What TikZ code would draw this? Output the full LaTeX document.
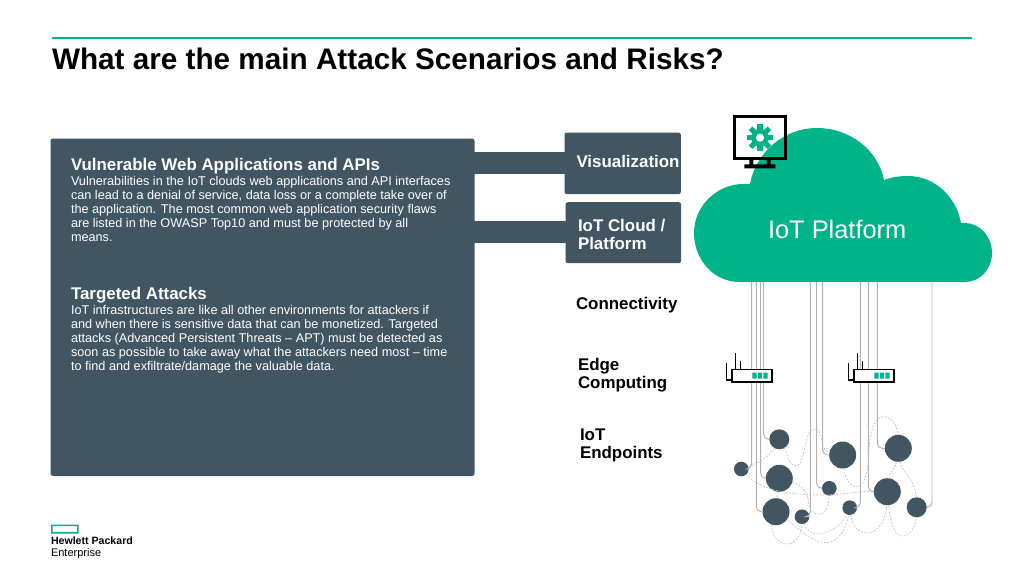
\documentclass[tikz,border=0pt]{standalone}
\usepackage{fontspec}
\setmainfont{Liberation Sans}
\definecolor{hpegreen}{HTML}{00B388}
\definecolor{slate}{HTML}{425563}
\definecolor{wiregray}{HTML}{B2B2B2}
\definecolor{dashgray}{HTML}{BEBEBE}
\tikzset{
  panelbox/.style={fill=slate,rounded corners=2.5pt,draw=none},
  txt/.style={inner sep=0pt,outer sep=0pt,anchor=base west},
  blocktxt/.style={inner sep=0pt,outer sep=0pt,anchor=north west,align=left,text=white},
  bodytxt/.style={blocktxt,font=\fontsize{12.68}{14}\selectfont},
  headtxt/.style={txt,text=white,font=\fontsize{16.9}{18}\selectfont\bfseries},
  lbl/.style={blocktxt,font=\fontsize{16.9}{18}\selectfont\bfseries},
  dot/.style={circle,fill=slate,inner sep=0pt,outer sep=0pt,minimum size=#1},
  wire/.style={draw=wiregray,line width=0.95pt,rounded corners=5pt},
  dashw/.style={draw=dashgray,line width=0.6pt,dash pattern=on 2pt off 1.4pt},
}
\newcommand{\routericon}[1]{%
  \begin{scope}[xshift=#1pt]
    \draw[black,line width=1.7pt,fill=white] (731.8,369.5) rectangle (772,382);
    \fill[hpegreen] (752.3,372.7) rectangle +(4.4,6) (757.8,372.7) rectangle +(4.4,6) (763.3,372.7) rectangle +(4.4,6);
    \draw[black,line width=1.1pt] (735.7,353.3) -- (735.7,369) (740.7,360.7) -- (740.7,369);
    \draw[black,line width=1.1pt] (726.3,363.3) -- (726.3,380) -- (731,380);
  \end{scope}}
\begin{document}
\begin{tikzpicture}[x=1pt,y=-1pt]
\useasboundingbox (0,0) rectangle (1024,576);
\fill[white] (0,0) rectangle (1024,576);
% title
\fill[hpegreen] (52,36.5) rectangle (972,38.5);
\node[txt,font=\fontsize{29.7}{32}\selectfont\bfseries] (title) at (52,69) {What are the main Attack Scenarios and Risks?};
% left panel and bars
\fill[slate] (470,151.7) rectangle (570,174.3);
\fill[slate] (470,221) rectangle (570,243.3);
\path[panelbox] (50.5,138.5) rectangle (474.5,476);
\node[panelbox,minimum width=116.4pt,minimum height=61.7pt,inner sep=0pt,anchor=north west] (viz) at (564.3,132.3) {};
\node[panelbox,minimum width=115.7pt,minimum height=61pt,inner sep=0pt,anchor=north west] (cloudbox) at (565.3,202) {};
\node[headtxt] (h1) at (71,170) {Vulnerable Web Applications and APIs};
\node[bodytxt] (b1) at (71,176.5) {Vulnerabilities in the IoT clouds web applications and API interfaces\\can lead to a denial of service, data loss or a complete take over of\\the application. The most common web application security flaws\\are listed in the OWASP Top10 and must be protected by all\\means.};
\node[headtxt] (h2) at (71,299) {Targeted Attacks};
\node[bodytxt] (b2) at (71,305) {IoT infrastructures are like all other environments for attackers if\\and when there is sensitive data that can be monetized. Targeted\\attacks (Advanced Persistent Threats – APT) must be detected as\\soon as possible to take away what the attackers need most – time\\to find and exfiltrate/damage the valuable data.};
% layer labels
\node[txt,text=white,font=\fontsize{16.9}{18}\selectfont\bfseries] (lviz) at (576.5,167.5) {Visualization};
\node[lbl] (lcloud) at (578,219) {IoT Cloud /\\Platform};
\node[txt,font=\fontsize{16.9}{18}\selectfont\bfseries] (lconn) at (576,309) {Connectivity};
\node[lbl,text=black] (ledge) at (578,358) {Edge\\Computing};
\node[lbl,text=black] (lend) at (580,429) {IoT\\Endpoints};
% endpoints
\node[dot=20pt] (d1) at (779.3,439.3) {};
\node[dot=14.6pt] (d2) at (741.3,469) {};
\node[dot=27pt] (d3) at (779.3,478.3) {};
\node[dot=27pt] (d4) at (776,511.7) {};
\node[dot=14.6pt] (d5) at (802,516.7) {};
\node[dot=27pt] (d6) at (842.7,455) {};
\node[dot=14.6pt] (d7) at (829.3,488.3) {};
\node[dot=14.6pt] (d8) at (849.7,507.7) {};
\node[dot=27pt] (d9) at (898.3,448.3) {};
\node[dot=27pt] (d10) at (887.3,491.7) {};
\node[dot=20pt] (d11) at (916.7,507.3) {};
% wires from the cloud
\foreach \n/\x in {a/751.7,b/756.3,c/760.7,d/763.7,e/810.3,f/816.7,g/822.7,h/860.3,i/868.3,j/877.3,k/932}
  \coordinate (w\n) at (\x,281);
\draw[wire] (wa) |- (d2);
\draw[wire] (wb) |- (d4);
\draw[wire] (wc) |- (d3);
\draw[wire] (wd) |- (d1);
\draw[wire] (we) |- (d5);
\draw[wire] (wf) |- (d7);
\draw[wire] (wg) |- (d6);
\draw[wire] (wh) |- (d8);
\draw[wire] (wi) |- (d10);
\draw[wire] (wj) |- (d9);
\draw[wire] (wk) |- (d11);
% dashed links
\draw[dashw] (d1) .. controls (768,458) and (757,464) .. (d2);
\draw[dashw] (d1) .. controls (787,452) and (788,465.7) .. (796,465.7) .. controls (806,466) and (803,429) .. (815,429) .. controls (825,429) and (818,450) .. (d6);
\draw[dashw] (d2) .. controls (760,490) and (790,495) .. (820,495) .. controls (840,495) and (860,491) .. (d10);
\draw[dashw] (d3) .. controls (802,485) and (808,492) .. (809,505) .. controls (810,512) and (815,514.3) .. (820,514.3) .. controls (826,514) and (829,505) .. (d7);
\draw[dashw] (d3) -- (d4);
\draw[dashw] (d4) .. controls (770,534) and (778,544) .. (787,544) .. controls (796,544) and (802,534) .. (d5);
\draw[dashw] (d4) .. controls (797,527) and (812,543) .. (826.7,542.7) .. controls (838,542) and (846,530) .. (d8);
\draw[dashw] (d5) .. controls (806,530) and (812,534) .. (817,534) .. controls (830,534) and (843,524) .. (d8);
\draw[dashw] (d8) .. controls (852,525) and (858,533) .. (867,533) .. controls (878,533) and (886,520) .. (d10);
\draw[dashw] (d6) .. controls (845,478) and (850,487) .. (856,486.7) .. controls (866,486) and (868,470) .. (869,450) .. controls (870,430) and (875,416.7) .. (883,416.7) .. controls (892,416.7) and (897,425) .. (d9);
\draw[dashw] (d9) .. controls (896,468) and (890,470) .. (d10);
\draw[dashw] (d9) .. controls (902,473) and (915,478) .. (d11);
\draw[dashw] (d10) .. controls (890,520) and (894,536) .. (902,536) .. controls (910,536) and (916,526) .. (d11);
% cloud
\fill[hpegreen] (740,282) .. controls (712,282) and (694,258) .. (694,233) .. controls (694,205) and (718,184) .. (743,184) -- (750,184)
  .. controls (756,152) and (784,128) .. (817,128) .. controls (850,128) and (878,150) .. (884,180)
  .. controls (892,177) and (900,176) .. (908,176) .. controls (934,176) and (956,196) .. (961,223) -- (965,223)
  .. controls (980,223) and (992,237) .. (992,253) .. controls (992,269) and (980,282) .. (965,282) -- cycle;
\node[txt,text=white,font=\fontsize{25.4}{28}\selectfont] (ltitle) at (768,238) {IoT Platform};
% monitor
\draw[black,line width=3pt] (734.8,116.8) rectangle (785.2,158.5);
\fill[black] (749.3,160) rectangle (753.3,165) (766.7,160) rectangle (770.7,165) (744.3,164.3) rectangle (775.3,168.3);
\begin{scope}[shift={(760,137.7)}]
  \fill[hpegreen,even odd rule] (0,0) circle (8.9) (0,0) circle (4.2);
  \foreach \a in {0,45,...,315}
    \fill[hpegreen,rotate=\a] (-2.6,-13.3) rectangle (2.6,-8);
\end{scope}
% routers
\routericon{0}
\routericon{122}
% logo
\fill[hpegreen,even odd rule] (51,524.5) rectangle (78.7,533.5) (52.6,526.1) rectangle (77.1,531.9);
\node[txt,font=\fontsize{10.6}{12}\selectfont\bfseries] (logo1) at (51,544.5) {Hewlett Packard};
\node[txt,font=\fontsize{11}{12}\selectfont] (logo2) at (51,556) {Enterprise};
\end{tikzpicture}
\end{document}
